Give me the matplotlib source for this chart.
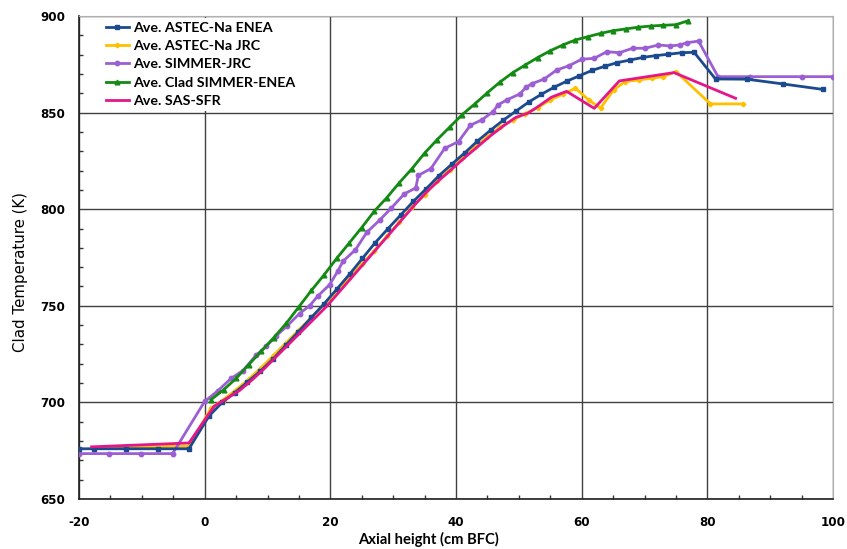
import matplotlib
matplotlib.use("Agg")
import matplotlib.pyplot as plt
from matplotlib.ticker import MultipleLocator

plt.rcParams['font.family'] = ['Lato', 'DejaVu Sans']
plt.rcParams['axes.unicode_minus'] = False

# ---- data ----
blue_x = [-20, -17.6, -12.5, -7.5, -2.5, 0.7, 2.8, 4.8, 6.8, 8.8, 10.9, 12.9, 14.9, 17.0, 19.0,
          21.0, 23.1, 25.1, 27.1, 29.2, 31.2, 33.2, 35.3, 37.3, 39.4, 41.4, 43.4, 45.5, 47.5,
          49.6, 51.6, 53.6, 55.6, 57.6, 59.6, 61.7, 63.7, 65.7, 67.7, 69.8, 71.8, 73.8, 75.9,
          77.9, 81.3, 86.3, 92.1, 98.4]
blue_t = [676, 676, 676, 676, 676, 693, 700, 705, 710.5, 716, 722.5, 729.5, 736.5, 744, 751,
          758.5, 766.5, 774.5, 782.5, 790, 797, 804, 810.7, 817.4, 823.5, 829.2, 835.2, 840.9, 846,
          850.9, 855.5, 859.5, 863.1, 866.2, 869, 871.9, 874, 875.9, 877.2, 878.6, 879.5, 880.2, 881,
          881.2, 867.4, 867.3, 864.8, 862]

yellow_x = [-17.7, -12.5, -7.5, -2.5, 1.0, 3, 5, 7, 9, 11, 13, 15, 17, 19, 21, 23, 25, 27, 29,
            31, 33, 35, 37, 39, 41, 43, 45, 47, 49, 51, 53, 55, 57, 59, 61.1, 63, 65.1, 66.9,
            69.1, 71.2, 73, 75, 80.5, 85.7]
yellow_t = [676.5, 677, 677.2, 677.3, 697, 701.5, 706.5, 712, 718, 724.5, 731, 737.5, 744, 750.5,
            757.5, 764.5, 771.5, 778.5, 786, 793.5, 801, 807.5, 814.5, 820.5, 826.5, 832, 837.5,
            842.5, 846, 849.5, 852.5, 856.6, 859.5, 862.6, 856.6, 852.3, 861.8, 866, 866.9, 867.8,
            868.6, 871.2, 854.5, 854.5]

purple_x = [-20, -15.2, -10.1, -5.1, 0, 2.1, 4.2, 6.1, 8.2, 9.8, 11.4, 13.1, 15.1, 16.7, 18.0,
            19.9, 21.2, 22.0, 24.0, 25.8, 27.9, 29.7, 31.8, 33.6, 34.0, 36.0, 38.2, 40.4, 42.3,
            44.1, 45.9, 46.7, 48.1, 50.2, 51.1, 52.1, 54, 56, 58, 60, 62, 64, 66, 68.1, 70.1,
            72.2, 74.1, 75.6, 76.8, 78.6, 81.7, 86.8, 95.1, 100]
purple_t = [673.5, 673.5, 673.5, 673.5, 700.5, 706, 712.4, 716.5, 724.5, 729, 734.5, 739.5, 746,
            750, 755, 761, 768, 773, 779, 788, 794.5, 800.6, 808, 811, 817.5, 821, 831.5, 835,
            843.5, 846.2, 850.5, 854, 856.6, 859.7, 863, 865, 867.3, 872, 874.3, 877.6, 878.1,
            881.5, 881, 883.3, 883.3, 885, 884.5, 885, 886.2, 887, 868.6, 868.6, 868.6, 868.6]

green_x = [1, 3, 5, 7, 9, 11, 13, 15, 17, 19, 21, 23, 25, 27, 29, 31, 33, 35, 37, 39, 41, 43,
           45, 47, 49, 51, 53, 55, 57, 59, 61, 63, 65, 67, 69, 71, 73, 75, 77]
green_t = [701.4, 706.5, 712.4, 719.5, 726.5, 733.5, 741, 749.5, 758, 766, 774.5, 782.5, 790.5,
           799, 806, 813.8, 821, 829, 836, 842.5, 849, 854.5, 860.3, 865.8, 870.6, 874.6, 878.5,
           882, 885, 887.6, 889.3, 891, 892.4, 893.3, 894.2, 894.8, 895.2, 895.5, 897.6]

pink_x = [-18, -2.5, 1.5, 3.5, 5.5, 7.5, 9.5, 11.5, 13.5, 15.5, 17.5, 19.5, 21.5, 23.5, 25.5,
          27.5, 29.5, 31.5, 33.5, 35.5, 37.5, 39.5, 41.5, 43.5, 45.5, 47.5, 49.5, 51.5, 53,
          55.2, 57.6, 62, 66, 74.7, 84.5]
pink_t = [677, 679, 698, 702, 706, 711.5, 717.5, 724, 730.5, 737, 743.5, 750, 757.5, 765, 772.5,
          780, 787.5, 795, 802.5, 809.5, 815.5, 821.2, 827, 832.5, 838, 843, 847.5, 849.8, 853,
          858, 861, 852.2, 866.4, 870.7, 857.4]

labels = ["Ave. ASTEC-Na ENEA", "Ave. ASTEC-Na JRC", "Ave. SIMMER-JRC",
          "Ave. Clad SIMMER-ENEA", "Ave. SAS-SFR"]
x_ticks = [-20, 0, 20, 40, 60, 80, 100]
y_ticks = [650, 700, 750, 800, 850, 900]

fig = plt.figure(figsize=(8.47, 5.49), dpi=100)
ax = fig.add_axes([79/847, 1-499/549, (833-79)/847, (499-16)/549])

ax.plot(blue_x, blue_t, color="#1B4A8E", lw=2.0, marker="s", ms=3.4, label=labels[0], zorder=5)
ax.plot(yellow_x, yellow_t, color="#FFC000", lw=2.0, marker="P", ms=3.0, label=labels[1], zorder=4)
ax.plot(purple_x, purple_t, color="#9B5FD3", lw=2.0, marker="o", ms=3.2, label=labels[2], zorder=4)
ax.plot(green_x, green_t, color="#138A13", lw=2.0, marker="^", ms=3.4, label=labels[3], zorder=4)
ax.plot(pink_x, pink_t, color="#E3168A", lw=2.0, label=labels[4], zorder=6)

ax.set_xlim(-20, 100)
ax.set_ylim(650, 900)
ax.set_xticks(x_ticks)
ax.set_yticks(y_ticks)
ax.xaxis.set_minor_locator(MultipleLocator(5))
ax.yaxis.set_minor_locator(MultipleLocator(10))
ax.tick_params(which="major", length=0, pad=12)
ax.tick_params(axis="y", which="major", pad=10)
ax.tick_params(which="minor", direction="in", length=3, width=1, color="#333333")
for lab in ax.get_xticklabels() + ax.get_yticklabels():
    lab.set_fontweight("bold")
    lab.set_fontfamily("DejaVu Sans")
    lab.set_fontsize(8.6)

ax.grid(True, which="major", color="#404040", lw=1.0)
ax.set_axisbelow(True)
for s in ["top", "right"]:
    ax.spines[s].set_color("#b0b0b0")
for s in ["left", "bottom"]:
    ax.spines[s].set_color("#202020")
    ax.spines[s].set_linewidth(1.2)

ax.set_xlabel("Axial height (cm BFC)", fontsize=10.6, fontweight="bold")
ax.xaxis.set_label_coords((428.5 - 79) / 754, (499 - 532) / 483)
ax.set_ylabel("Clad Temperature (K)", fontsize=10.8, family="DejaVu Sans")
ax.yaxis.set_label_coords((28 - 79) / 754, (499 - 272) / 483)

leg = ax.legend(loc="upper left", bbox_to_anchor=(0.027, 1.0), frameon=True, fancybox=False,
                edgecolor="none", facecolor="white", framealpha=1,
                prop={"size": 10.3, "weight": "bold"}, handlelength=1.6, handletextpad=0.3,
                labelspacing=0.42, borderaxespad=0.15, borderpad=0.3)

fig.savefig("out.png", dpi=100)
